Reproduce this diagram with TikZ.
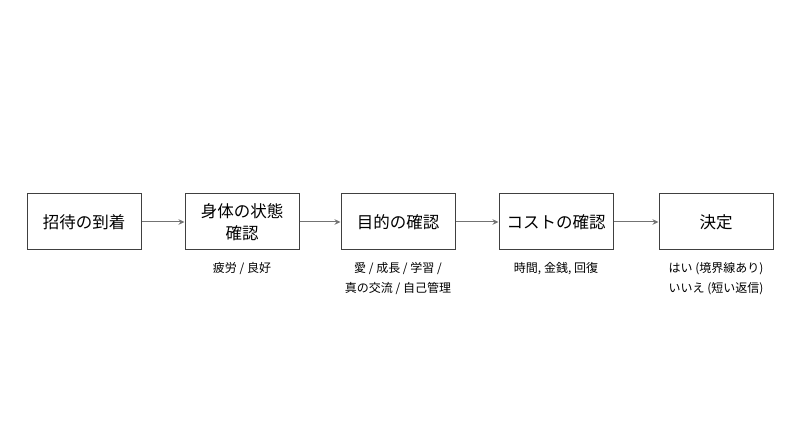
\documentclass[tikz,border=0pt]{standalone}
\usepackage{fontspec}
\setmainfont{Noto Sans CJK JP}
\usepackage{tikz}
\usetikzlibrary{arrows.meta}
\usetikzlibrary{positioning}

\begin{document}
\begin{tikzpicture}[x=1pt,y=-1pt,
    etape/.style={draw=black!75, line width=1pt, minimum width=114pt, minimum height=56pt, inner sep=0pt, align=center, font=\fontsize{16.5}{22}\selectfont},
    fleche/.style={-{Stealth[length=6pt,width=5.5pt]}, gray!90!black, line width=1pt},
    note/.style={inner sep=0pt, align=center, font=\fontsize{12}{20}\selectfont}]
    % fond blanc
    \fill[white] (0,0) rectangle (800,446);
    \useasboundingbox (0,0) rectangle (800,446);
    % boites
    \node[etape] (invit) at (84,222) {招待の到着};
    \node[etape] (corps) at (242,222) {身体の状態\\確認};
    \node[etape] (but) at (398,222) {目的の確認};
    \node[etape] (cout) at (556,222) {コストの確認};
    \node[etape] (decis) at (716,222) {決定};
    % fleches
    \draw[fleche] (invit) -- (corps);
    \draw[fleche] (corps) -- (but);
    \draw[fleche] (but) -- (cout);
    \draw[fleche] (cout) -- (decis);
    % notes
    \node[note, below=12pt of corps] (n1) {疲労 / 良好};
    \node[note, below=12pt of but] (n2) {愛 / 成長 / 学習 /\\真の交流 / 自己管理};
    \node[note, below=12pt of cout] (n3) {時間, 金銭, 回復};
    \node[note, below=12pt of decis] (n4) {はい (境界線あり)\\いいえ (短い返信)};
\end{tikzpicture}
\end{document}
